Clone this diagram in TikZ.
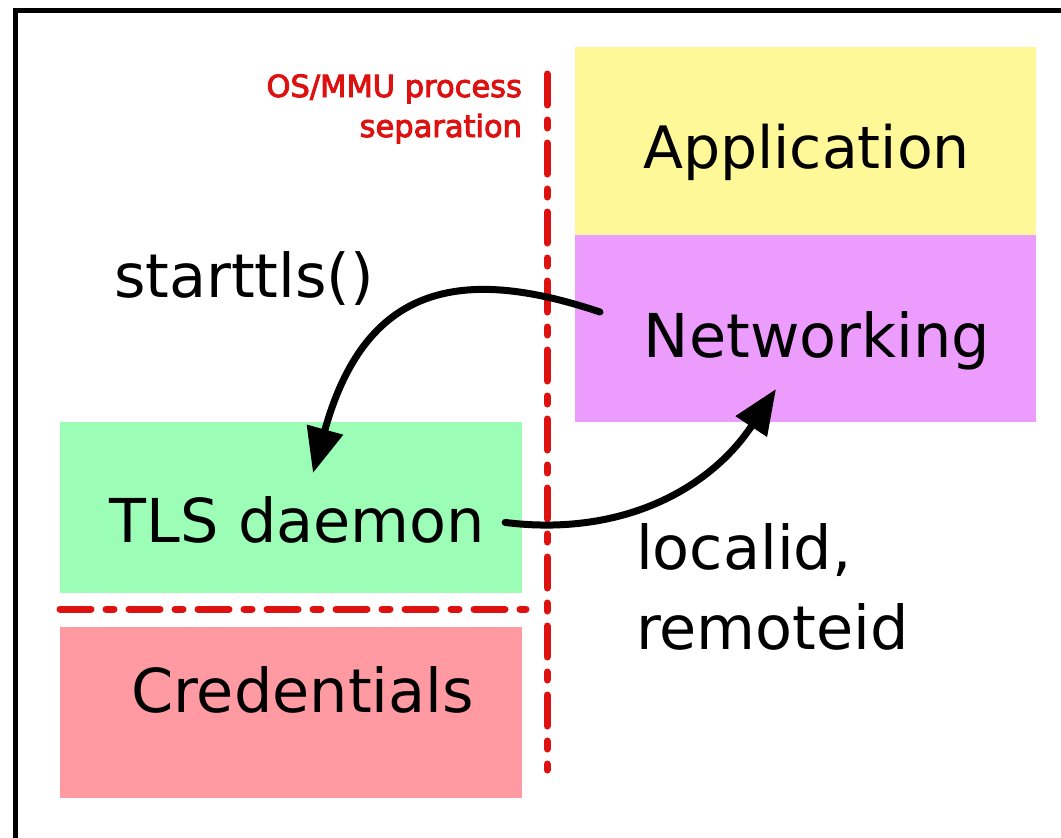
\documentclass[tikz,border=0pt]{standalone}
\usepackage{fontspec}
\setmainfont{DejaVu Sans}
\newfontfamily\sepfont[FakeBold=3]{DejaVu Sans}
\usetikzlibrary{arrows.meta,calc}
\definecolor{appyellow}{RGB}{255,248,153}
\definecolor{netviolet}{RGB}{236,156,252}
\definecolor{tlsgreen}{RGB}{155,253,182}
\definecolor{credpink}{RGB}{255,153,162}
\definecolor{sepred}{RGB}{222,17,17}
\tikzset{
  layerbox/.style={draw=none,inner sep=0pt,outer sep=0pt,rectangle},
  bigtext/.style={inner sep=0pt,outer sep=0pt,anchor=base,font=\fontsize{60.5}{72}\selectfont},
  bigleft/.style={inner sep=0pt,outer sep=0pt,anchor=base west,font=\fontsize{60.5}{72}\selectfont},
  redtext/.style={inner sep=0pt,outer sep=0pt,anchor=base east,text=sepred,font=\sepfont\fontsize{30.5}{38}\selectfont},
  sepline/.style={draw=sepred,line width=7pt,line cap=round,dash pattern=on 31pt off 15pt on 8pt off 15pt},
  callarrow/.style={draw=black,line width=7pt,line cap=round,-{Triangle[length=45pt,width=36pt]}}
}
\begin{document}
\begin{tikzpicture}[x=1pt,y=-1pt]
\useasboundingbox (0,0) rectangle (1061,838);
\clip (0,0) rectangle (1061,838);
\fill[white] (0,0) rectangle (1061,838);
% outer frame
\draw[line width=5pt] (15,10) rectangle (1090,870);
% layer boxes
\node[layerbox,fill=appyellow,minimum width=461pt,minimum height=188pt] (app) at (805.5,141) {};
\node[layerbox,fill=netviolet,minimum width=461pt,minimum height=187pt] (net) at (805.5,328.5) {};
\node[layerbox,fill=tlsgreen,minimum width=462pt,minimum height=171pt] (tls) at (291,507.5) {};
\node[layerbox,fill=credpink,minimum width=462pt,minimum height=171pt] (cred) at (291,712.5) {};
% texts
\node[bigtext,font=\fontsize{58.5}{70}\selectfont] (apptext) at (806.5,168) {Application};
\node[bigtext] (nettext) at (817,357) {Networking};
\node[bigtext] (tlstext) at (297.5,542) {TLS daemon};
\node[bigtext] (credtext) at (302.5,712) {Credentials};
\node[bigleft] (starttext) at (114,297) {starttls()};
\node[bigleft] (idtext1) at (636,569) {localid,};
\node[bigleft] (idtext2) at (636,649) {remoteid};
\node[redtext] (septext1) at (522,97) {OS/MMU process};
\node[redtext] (septext2) at (522,137) {separation};
% separators
\coordinate (vtop) at (547,74);
\coordinate (vbot) at (547,770);
\coordinate (hleft) at ($(cred.north west)+(0,-18)$);
\coordinate (hright) at ($(cred.north east)+(4,-18)$);
\draw[sepline] (vtop) -- (vbot);
\draw[sepline] (hleft) -- (hright);
% arrows
\draw[callarrow] ($(net.north west)+(25,77)$) .. controls (460,265) and (365,285) .. ($(tls.north west)+(253,51)$);
\draw[callarrow] ($(tlstext.east)+(20,3)$) .. controls (622,537) and (710,489) .. ($(net.south west)+(201,-33)$);
\end{tikzpicture}
\end{document}
